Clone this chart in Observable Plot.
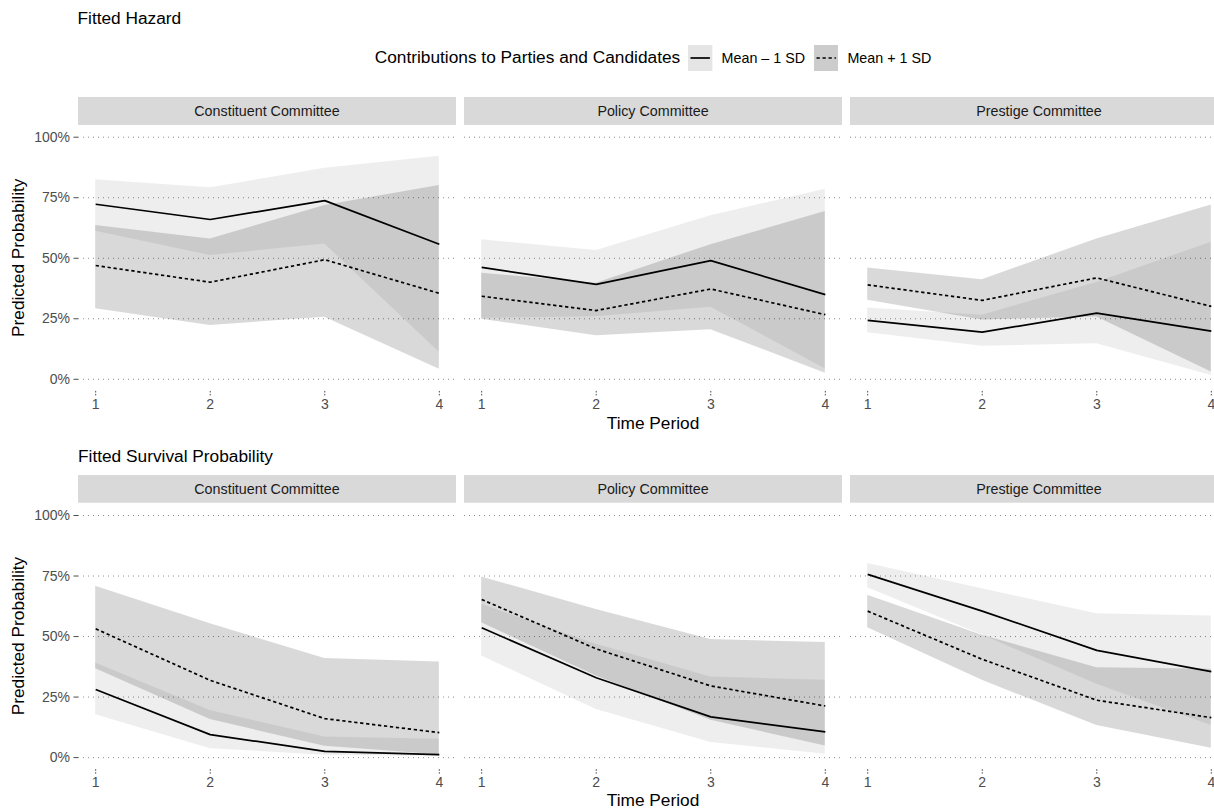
<!DOCTYPE html>
<html>
<head>
<meta charset="utf-8">
<script src="https://cdn.jsdelivr.net/npm/d3@7"></script>
<script src="https://cdn.jsdelivr.net/npm/@observablehq/plot@0.6"></script>
<style>
  html, body { margin: 0; padding: 0; background: #ffffff; overflow: hidden; }
  body { width: 1214px; height: 809px; position: relative; font-family: "Liberation Sans", Arial, sans-serif; }
  .abs { position: absolute; white-space: nowrap; line-height: 1; }
  .title { font-size: 17.3px; color: #000; }
  #legend { position: absolute; left: 0; top: 45px; width: 1306px; height: 26px; display: flex; justify-content: center; align-items: center; line-height: 1; white-space: nowrap; }
  #legend .ltitle { font-size: 17.3px; color: #000; margin-right: 8px; }
  #legend .llab { font-size: 14.3px; color: #000; margin-left: 9px; }
  #legend svg { display: block; }
  svg.row { position: absolute; left: 0; max-width: none !important; width: 1240px !important; }
</style>
</head>
<body>
<script>
// ---------------- data ----------------
const committees = ["Constituent Committee", "Policy Committee", "Prestige Committee"];
const periods = [1, 2, 3, 4];
const seriesNames = ["Mean \u2013 1 SD", "Mean + 1 SD"];
const yTicks = [0, 0.25, 0.5, 0.75, 1];
const legendTitle = "Contributions to Parties and Candidates";
const rowTitles = ["Fitted Hazard", "Fitted Survival Probability"];
const xTitle = "Time Period";
const yTitle = "Predicted Probability";

// Fitted hazard, Mean - 1 SD (rows = committees, columns = periods)
const hazLowFit = [[0.723, 0.660, 0.738, 0.558], [0.462, 0.392, 0.490, 0.350], [0.243, 0.195, 0.273, 0.199]];
const hazLowLo  = [[0.612, 0.511, 0.559, 0.112], [0.252, 0.258, 0.298, 0.043], [0.192, 0.136, 0.147, 0.016]];
const hazLowHi  = [[0.824, 0.791, 0.872, 0.921], [0.576, 0.532, 0.676, 0.785], [0.295, 0.265, 0.400, 0.566]];
// Fitted hazard, Mean + 1 SD
const hazHighFit = [[0.470, 0.401, 0.494, 0.355], [0.343, 0.284, 0.373, 0.267], [0.390, 0.326, 0.419, 0.301]];
const hazHighLo  = [[0.291, 0.222, 0.256, 0.041], [0.248, 0.180, 0.205, 0.025], [0.326, 0.245, 0.257, 0.030]];
const hazHighHi  = [[0.635, 0.580, 0.718, 0.800], [0.438, 0.397, 0.556, 0.693], [0.460, 0.411, 0.580, 0.720]];
// Fitted survival, Mean - 1 SD
const survLowFit = [[0.281, 0.095, 0.026, 0.012], [0.536, 0.330, 0.168, 0.106], [0.757, 0.605, 0.443, 0.355]];
const survLowLo  = [[0.177, 0.037, 0.010, 0.005], [0.420, 0.199, 0.062, 0.014], [0.702, 0.506, 0.303, 0.133]];
const survLowHi  = [[0.391, 0.195, 0.085, 0.076], [0.633, 0.468, 0.333, 0.320], [0.802, 0.697, 0.594, 0.585]];
// Fitted survival, Mean + 1 SD
const survHighFit = [[0.532, 0.319, 0.161, 0.103], [0.653, 0.449, 0.296, 0.213], [0.605, 0.406, 0.237, 0.165]];
const survHighLo  = [[0.367, 0.157, 0.047, 0.012], [0.557, 0.337, 0.154, 0.048], [0.536, 0.319, 0.133, 0.039]];
const survHighHi  = [[0.708, 0.553, 0.409, 0.395], [0.746, 0.612, 0.488, 0.475], [0.671, 0.505, 0.371, 0.365]];

function buildRows(fitL, loL, hiL, fitH, loH, hiH) {
  const rows = [];
  committees.forEach((c, i) => {
    periods.forEach((t, j) => rows.push({committee: c, t, series: seriesNames[0], fit: fitL[i][j], lo: loL[i][j], hi: hiL[i][j]}));
    periods.forEach((t, j) => rows.push({committee: c, t, series: seriesNames[1], fit: fitH[i][j], lo: loH[i][j], hi: hiH[i][j]}));
  });
  return rows;
}
const hazardRows = buildRows(hazLowFit, hazLowLo, hazLowHi, hazHighFit, hazHighLo, hazHighHi);
const survivalRows = buildRows(survLowFit, survLowLo, survLowHi, survHighFit, survHighLo, survHighHi);

// ---------------- styles ----------------
const FONT = '"Liberation Sans", Arial, sans-serif';
const LIGHT_OP = 0.067, DARK_OP = 0.149;
const DASH = "3.3 2.7";

function makeRow(rows, cfg) {
  const low = rows.filter(d => d.series === seriesNames[0]);
  const high = rows.filter(d => d.series === seriesNames[1]);
  const panelH = 266.3;
  const plot = Plot.plot({
    width: 1240,
    height: cfg.height,
    marginLeft: 78,
    marginRight: 12,
    marginTop: cfg.mt,
    marginBottom: cfg.height - cfg.mt - panelH,
    style: {fontFamily: FONT, fontSize: "14px", color: "#4d4d4d", background: "transparent", overflow: "visible"},
    fx: {domain: committees, paddingInner: 8 / 386, paddingOuter: 0, round: false, axis: null, label: null},
    x: {domain: [0.85, 4.15], label: null},
    y: {domain: [-0.05, 1.05], label: null},
    marks: [
      Plot.gridY(yTicks, {stroke: "#8c8c8c", strokeOpacity: 1, strokeWidth: 1, strokeDasharray: "1 4"}),
      Plot.areaY(low, {fx: "committee", x: "t", y1: "lo", y2: "hi", fill: "#000", fillOpacity: LIGHT_OP}),
      Plot.areaY(high, {fx: "committee", x: "t", y1: "lo", y2: "hi", fill: "#000", fillOpacity: DARK_OP}),
      Plot.lineY(low, {fx: "committee", x: "t", y: "fit", stroke: "#000", strokeWidth: 1.7, strokeLinecap: "butt"}),
      Plot.lineY(high, {fx: "committee", x: "t", y: "fit", stroke: "#000", strokeWidth: 1.7, strokeDasharray: DASH, strokeLinecap: "butt"}),
      Plot.axisY({ticks: yTicks, tickFormat: d3.format(".0%"), tickSize: 4.5, tickPadding: 4, fontSize: 14, label: null}),
      Plot.axisX({ticks: periods, tickFormat: "d", tickSize: 4.5, tickPadding: 3, fontSize: 14, label: null, strokeDasharray: "1.6 1.4"})
    ]
  });
  const fx = plot.scale("fx");
  const svg = d3.select(plot);
  const g = svg.insert("g", ":first-child");
  for (const c of fx.domain) {
    const x0 = fx.apply(c);
    g.append("rect").attr("x", x0).attr("y", cfg.stripY).attr("width", fx.bandwidth).attr("height", cfg.stripH).attr("fill", "#d9d9d9");
    g.append("text").attr("x", x0 + fx.bandwidth / 2).attr("y", cfg.stripY + cfg.stripH / 2 + 5)
      .attr("text-anchor", "middle").attr("fill", "#1a1a1a").style("font-size", "14.3px").style("font-family", FONT).text(c);
  }
  const r = fx.range;
  svg.append("text").attr("x", (r[0] + r[1]) / 2).attr("y", cfg.xTitleY).attr("text-anchor", "middle")
    .attr("fill", "#000").style("font-size", "17.3px").style("font-family", FONT).text(xTitle);
  svg.append("text").attr("transform", `translate(24,${cfg.mt + panelH / 2}) rotate(-90)`).attr("text-anchor", "middle")
    .attr("fill", "#000").style("font-size", "17.3px").style("font-family", FONT).text(yTitle);
  plot.style.height = cfg.height + "px";
  return plot;
}

// ---------------- layout ----------------
const body = document.body;
function addTitle(text, left, top) {
  const d = document.createElement("div");
  d.className = "abs title";
  d.style.left = left + "px";
  d.style.top = top + "px";
  d.textContent = text;
  body.appendChild(d);
}
addTitle(rowTitles[0], 77.5, 9.9);

// legend
const legend = document.createElement("div");
legend.id = "legend";
const lt = document.createElement("span");
lt.className = "ltitle";
lt.textContent = legendTitle;
legend.appendChild(lt);
const keyFills = ["#e5e5e5", "#cccccc"];
const keyDash = [null, DASH];
seriesNames.forEach((s, i) => {
  const k = d3.create("svg").attr("width", 24.4).attr("height", 26).style("margin-left", i === 0 ? "0px" : "9px");
  k.append("rect").attr("width", 24.4).attr("height", 26).attr("fill", keyFills[i]);
  const ln = k.append("line").attr("x1", 2.5).attr("x2", 21.9).attr("y1", 13).attr("y2", 13).attr("stroke", "#000").attr("stroke-width", 1.7);
  if (keyDash[i]) ln.attr("stroke-dasharray", keyDash[i]);
  legend.appendChild(k.node());
  const lab = document.createElement("span");
  lab.className = "llab";
  lab.textContent = s;
  legend.appendChild(lab);
});
body.appendChild(legend);

const row1 = makeRow(hazardRows, {height: 350, mt: 34.6, stripY: 7, stripH: 28, xTitleY: 339});
row1.classList.add("row");
row1.style.top = "90px";
body.appendChild(row1);

addTitle(rowTitles[1], 78, 447.9);

const row2 = makeRow(survivalRows, {height: 344, mt: 37.9, stripY: 10, stripH: 27.7, xTitleY: 340.5});
row2.classList.add("row");
row2.style.top = "465px";
body.appendChild(row2);
</script>
</body>
</html>
